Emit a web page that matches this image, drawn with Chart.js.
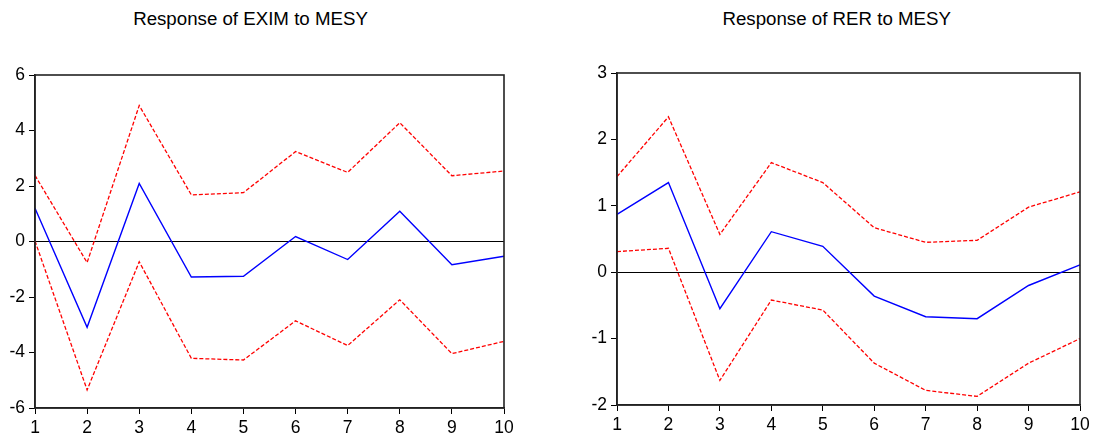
<!DOCTYPE html>
<html>
<head>
<meta charset="utf-8">
<script src="https://cdn.jsdelivr.net/npm/chart.js@4.4.1/dist/chart.umd.min.js"></script>
<style>
  html, body { margin: 0; padding: 0; background: #fff; }
  body { width: 1096px; height: 437px; position: relative; overflow: hidden; font-family: "Liberation Sans", Arial, sans-serif; }
  .title { position: absolute; top: 10px; font-size: 18.7px; line-height: 1; color: #000; white-space: nowrap; transform: translateX(-50%); }
  canvas { position: absolute; top: 0; }
</style>
</head>
<body>
<div class="title" id="t1" style="left:250.5px">Response of EXIM to MESY</div>
<div class="title" id="t2" style="left:836.7px">Response of RER to MESY</div>
<canvas id="c1" width="548" height="437" style="left:0px"></canvas>
<canvas id="c2" width="548" height="437" style="left:548px"></canvas>
<script>
const periods = ['1','2','3','4','5','6','7','8','9','10'];

// Response of EXIM to MESY
const eximResponse = [1.20, -3.09, 2.09, -1.28, -1.25, 0.18, -0.65, 1.09, -0.84, -0.53];
const eximUpper    = [2.38, -0.76, 4.90, 1.68, 1.76, 3.24, 2.49, 4.28, 2.37, 2.54];
const eximLower    = [0.02, -5.35, -0.73, -4.21, -4.27, -2.86, -3.75, -2.10, -4.04, -3.60];
const eximTicks    = { min: -6, max: 6, step: 2 };

// Response of RER to MESY
const rerResponse = [0.87, 1.35, -0.55, 0.61, 0.39, -0.36, -0.67, -0.70, -0.20, 0.11];
const rerUpper    = [1.44, 2.34, 0.57, 1.65, 1.35, 0.67, 0.45, 0.48, 0.98, 1.21];
const rerLower    = [0.31, 0.36, -1.63, -0.42, -0.57, -1.37, -1.78, -1.87, -1.37, -1.00];
const rerTicks    = { min: -2, max: 3, step: 1 };

const FONT = { family: '"Liberation Sans", Arial, sans-serif', size: 17.5 };

const framePlugin = {
  id: 'frame',
  afterDatasetsDraw(chart) {
    const a = chart.chartArea, ctx = chart.ctx;
    ctx.save();
    ctx.strokeStyle = '#222';
    ctx.lineWidth = 1.6;
    ctx.strokeRect(a.left, a.top, a.right - a.left, a.bottom - a.top);
    ctx.restore();
  }
};

function makeChart(id, resp, up, lo, tk, yWidth, pad) {
  new Chart(document.getElementById(id), {
    type: 'line',
    data: {
      labels: periods,
      datasets: [
        { data: up, borderColor: '#ff0000', borderWidth: 1.3, borderDash: [4, 2], pointRadius: 0, tension: 0, fill: false },
        { data: lo, borderColor: '#ff0000', borderWidth: 1.3, borderDash: [4, 2], pointRadius: 0, tension: 0, fill: false },
        { data: resp, borderColor: '#0000ff', borderWidth: 1.4, pointRadius: 0, tension: 0, fill: false }
      ]
    },
    options: {
      responsive: false,
      animation: false,
      devicePixelRatio: 1,
      layout: { padding: pad },
      plugins: { legend: { display: false }, title: { display: false }, tooltip: { enabled: false } },
      scales: {
        x: {
          type: 'category',
          offset: false,
          grid: { drawOnChartArea: false, drawTicks: true, tickLength: 6, tickColor: '#000', offset: false },
          border: { display: true, color: '#222', width: 1.6 },
          ticks: { color: '#000', font: FONT, padding: 4, maxRotation: 0, autoSkip: false },
          afterFit(scale) { scale.height = 25; }
        },
        y: {
          min: tk.min, max: tk.max,
          grid: {
            drawOnChartArea: true, drawTicks: true, tickLength: 6, tickColor: '#000',
            color: ctx => (ctx.tick && ctx.tick.value === 0) ? '#000' : 'rgba(0,0,0,0)',
            lineWidth: 1
          },
          border: { display: true, color: '#222', width: 1.6 },
          ticks: { stepSize: tk.step, color: '#000', font: FONT, padding: 4 },
          afterFit(scale) { scale.width = yWidth; }
        }
      }
    },
    plugins: [framePlugin]
  });
}

makeChart('c1', eximResponse, eximUpper, eximLower, eximTicks, 35, { left: 0, right: 44, top: 75, bottom: 4 });
makeChart('c2', rerResponse, rerUpper, rerLower, rerTicks, 69, { left: 0, right: 16, top: 73, bottom: 7 });
</script>
</body>
</html>
